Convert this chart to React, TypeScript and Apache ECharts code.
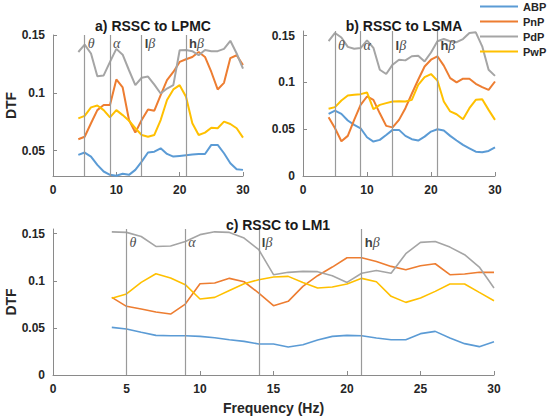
import React, { useEffect, useRef } from "react";
import * as echarts from "echarts";

const freqs = [4, 5, 6, 7, 8, 9, 10, 11, 12, 13, 14, 15, 16, 17, 18, 19, 20, 21, 22, 23, 24, 25, 26, 27, 28, 29, 30];
const seriesNames = ["ABP", "PnP", "PdP", "PwP"];
const seriesColors = ["#5B9BD5", "#ED7D31", "#A5A5A5", "#FFC000"];
const panelTitles = ["a) RSSC to LPMC", "b) RSSC to LSMA", "c) RSSC to LM1"];
const bandEdges = [5, 9, 14, 21];
const bandLabels = ["θ", "α", "lβ", "hβ"];

// Panel a) RSSC to LPMC
const aABP = [0.0463, 0.0483, 0.0448, 0.0376, 0.0319, 0.029, 0.0282, 0.03, 0.029, 0.0333, 0.0405, 0.0483, 0.049, 0.052, 0.0471, 0.0448, 0.0454, 0.046, 0.0466, 0.047, 0.047, 0.0549, 0.0549, 0.0477, 0.0391, 0.0339, 0.0333];
const aPnP = [0.0598, 0.062, 0.0736, 0.085, 0.0894, 0.0894, 0.1115, 0.1046, 0.0764, 0.0655, 0.0764, 0.0856, 0.0845, 0.098, 0.111, 0.118, 0.1267, 0.129, 0.131, 0.1353, 0.131, 0.118, 0.1029, 0.1086, 0.13, 0.1325, 0.124];
const aPdP = [0.1353, 0.1417, 0.134, 0.1144, 0.115, 0.1267, 0.138, 0.133, 0.1195, 0.1066, 0.113, 0.114, 0.107, 0.0994, 0.1037, 0.1066, 0.1368, 0.137, 0.136, 0.1325, 0.137, 0.136, 0.136, 0.138, 0.145, 0.134, 0.121];
const aPwP = [0.0779, 0.08, 0.0874, 0.089, 0.085, 0.0787, 0.085, 0.0807, 0.0758, 0.0693, 0.0635, 0.062, 0.0635, 0.0764, 0.0937, 0.1029, 0.1066, 0.0966, 0.0736, 0.0635, 0.0655, 0.0698, 0.0693, 0.075, 0.073, 0.0693, 0.0612];

// Panel b) RSSC to LSMA
const bABP = [0.0664, 0.07, 0.0664, 0.0593, 0.0546, 0.051, 0.0414, 0.0368, 0.0386, 0.0439, 0.0493, 0.0493, 0.0429, 0.0393, 0.0379, 0.0421, 0.0475, 0.05, 0.0486, 0.0429, 0.0379, 0.0332, 0.0296, 0.026, 0.0254, 0.0268, 0.0307];
const bPnP = [0.0629, 0.051, 0.0371, 0.0429, 0.06, 0.076, 0.085, 0.0814, 0.067, 0.0536, 0.052, 0.06, 0.0725, 0.0879, 0.1029, 0.117, 0.1243, 0.128, 0.118, 0.1046, 0.1, 0.104, 0.104, 0.0986, 0.095, 0.092, 0.101];
const bPdP = [0.1443, 0.1529, 0.148, 0.138, 0.136, 0.1368, 0.145, 0.137, 0.1136, 0.109, 0.119, 0.1243, 0.1236, 0.128, 0.1286, 0.1225, 0.132, 0.144, 0.1464, 0.144, 0.143, 0.1464, 0.1529, 0.1536, 0.1386, 0.1136, 0.107];
const bPwP = [0.0718, 0.0736, 0.0807, 0.086, 0.0868, 0.0875, 0.0893, 0.0714, 0.076, 0.0779, 0.0796, 0.08, 0.0796, 0.0814, 0.0975, 0.1057, 0.109, 0.102, 0.0796, 0.069, 0.066, 0.0607, 0.0725, 0.0814, 0.082, 0.0707, 0.06];

// Panel c) RSSC to LM1
const cABP = [0.0506, 0.0488, 0.0453, 0.0421, 0.0417, 0.0417, 0.041, 0.0396, 0.0375, 0.0357, 0.0329, 0.0329, 0.0297, 0.0322, 0.0371, 0.041, 0.0421, 0.0417, 0.0393, 0.0375, 0.0375, 0.0439, 0.0463, 0.0393, 0.0333, 0.0301, 0.0354];
const cPnP = [0.0824, 0.0729, 0.07, 0.0669, 0.0647, 0.0753, 0.0969, 0.0976, 0.1026, 0.099, 0.087, 0.0736, 0.0782, 0.0941, 0.1054, 0.1146, 0.1245, 0.1245, 0.1206, 0.1153, 0.1118, 0.116, 0.1181, 0.1065, 0.1072, 0.109, 0.109];
const cPdP = [0.152, 0.1514, 0.147, 0.1365, 0.137, 0.1418, 0.149, 0.152, 0.1514, 0.1454, 0.133, 0.1065, 0.109, 0.11, 0.1097, 0.1054, 0.0983, 0.108, 0.111, 0.108, 0.1288, 0.1408, 0.1418, 0.1358, 0.1277, 0.1146, 0.0923];
const cPwP = [0.0814, 0.086, 0.0983, 0.1075, 0.1029, 0.0959, 0.0807, 0.0824, 0.0898, 0.0969, 0.1012, 0.104, 0.1047, 0.0983, 0.0923, 0.0934, 0.0966, 0.1026, 0.099, 0.0835, 0.0771, 0.0817, 0.0888, 0.0966, 0.0966, 0.0877, 0.0789];

const panelData = [
  [aABP, aPnP, aPdP, aPwP],
  [bABP, bPnP, bPdP, bPwP],
  [cABP, cPnP, cPdP, cPwP],
];
const yMins = [0.028, 0, 0];
const yMaxs = [0.15, 0.155, 0.155];
const yTickValues = [[0.05, 0.1, 0.15], [0, 0.05, 0.1, 0.15], [0, 0.05, 0.1, 0.15]];
const xTickValues = [[0, 10, 20, 30], [0, 10, 20, 30], [0, 5, 10, 15, 20, 25, 30]];
const bandLabelY = [0.143, 0.14, 0.1405];

const FONT = "'Liberation Sans', Arial, Helvetica, sans-serif";
const SERIF = "'Liberation Serif', 'Times New Roman', serif";

const grids = [
  { left: 53, top: 35, width: 190, height: 141, outerBoundsMode: "none", containLabel: false },
  { left: 303, top: 31, width: 192, height: 145, outerBoundsMode: "none", containLabel: false },
  { left: 53, top: 229, width: 441, height: 146, outerBoundsMode: "none", containLabel: false },
];

function fmtTick(v: number) {
  return String(Math.round(v * 100) / 100);
}

function bandFormatter(label: string) {
  if (label.length === 2) return `{s|${label[0]}}{g|${label[1]}}`;
  return `{g|${label}}`;
}

export default function App() {
  const ref = useRef<HTMLDivElement>(null);
  useEffect(() => {
    if (!ref.current) return;
    const chart = echarts.init(ref.current, undefined, { renderer: "svg" });
    const axisColor = "#8a8a8a";
    const labelColor = "#262626";

    const xAxes = grids.map((_, p) => ({
      type: "value",
      gridIndex: p,
      min: 0,
      max: 30,
      splitLine: { show: false },
      axisLine: { show: true, lineStyle: { color: axisColor, width: 1 } },
      axisTick: { show: true, inside: true, length: 4, lineStyle: { color: axisColor }, customValues: xTickValues[p] },
      axisLabel: {
        color: labelColor,
        fontFamily: FONT,
        fontWeight: "bold",
        fontSize: 12,
        margin: 8,
        customValues: xTickValues[p],
        formatter: (v: number) => fmtTick(v),
      },
      name: p === 2 ? "Frequency (Hz)" : "",
      nameLocation: "middle",
      nameGap: 26,
      nameMoveOverlap: false,
      nameTextStyle: { color: labelColor, fontFamily: FONT, fontWeight: "bold", fontSize: 14 },
    }));

    const yAxes = grids.map((_, p) => ({
      type: "value",
      gridIndex: p,
      min: yMins[p],
      max: yMaxs[p],
      splitLine: { show: false },
      axisLine: { show: true, lineStyle: { color: axisColor, width: 1 } },
      axisTick: { show: true, inside: true, length: 4, lineStyle: { color: axisColor }, customValues: yTickValues[p] },
      axisLabel: {
        color: labelColor,
        fontFamily: FONT,
        fontWeight: "bold",
        fontSize: 12,
        margin: 8,
        customValues: yTickValues[p],
        formatter: (v: number) => fmtTick(v),
      },
      name: p === 1 ? "" : "DTF",
      nameLocation: "middle",
      nameGap: 35,
      nameRotate: 90,
      nameMoveOverlap: false,
      nameTextStyle: { color: labelColor, fontFamily: FONT, fontWeight: "bold", fontSize: 14 },
    }));

    const series: any[] = [];
    panelData.forEach((sets, p) => {
      series.push({
        type: "line",
        xAxisIndex: p,
        yAxisIndex: p,
        data: [],
        silent: true,
        markLine: {
          symbol: "none",
          silent: true,
          animation: false,
          lineStyle: { color: "#9a9a9a", width: 1.2, type: "solid" },
          label: { show: false },
          data: bandEdges.map((x) => ({ xAxis: x })),
        },
        markPoint: {
          symbol: "circle",
          symbolSize: 0,
          silent: true,
          animation: false,
          label: {
            show: true,
            position: "right",
            distance: 3,
            color: "#404040",
            formatter: (d: any) => bandFormatter(d.name),
            rich: {
              s: { fontFamily: FONT, fontWeight: "bold", fontSize: 13, color: "#404040" },
              g: { fontFamily: SERIF, fontStyle: "italic", fontSize: 14, color: "#505050" },
            },
          },
          data: bandEdges.map((x, i) => ({ name: bandLabels[i], coord: [x, bandLabelY[p]] })),
        },
      });
      sets.forEach((vals, s) => {
        series.push({
          type: "line",
          name: seriesNames[s],
          xAxisIndex: p,
          yAxisIndex: p,
          showSymbol: false,
          symbol: "none",
          color: seriesColors[s],
          lineStyle: { color: seriesColors[s], width: p === 2 ? 1.6 : 2 },
          data: freqs.map((f, i) => [f, vals[i]]),
          z: 3,
        });
      });
    });

    chart.setOption({
      animation: false,
      backgroundColor: "#ffffff",
      title: [
        { text: panelTitles[0], left: 148, top: 14, textAlign: "center" },
        { text: panelTitles[1], left: 399, top: 14, textAlign: "center" },
        { text: panelTitles[2], left: 273, top: 213, textAlign: "center" },
      ].map((t) => ({ ...t, textStyle: { fontFamily: FONT, fontWeight: "bold", fontSize: 14, color: "#1a1a1a" } })),
      legend: {
        data: seriesNames,
        orient: "vertical",
        left: 480,
        top: 0,
        padding: 0,
        itemWidth: 38,
        itemHeight: 2,
        itemGap: 2,
        icon: "rect",
        textStyle: { fontFamily: FONT, fontWeight: "bold", fontSize: 11, color: labelColor, lineHeight: 13 },
      },
      grid: grids,
      xAxis: xAxes,
      yAxis: yAxes,
      series,
    });
    return () => chart.dispose();
  }, []);
  return (
    <div
      ref={ref}
      style={{ position: "fixed", left: 0, top: 0, width: 550, height: 420, background: "#fff" }}
    />
  );
}
